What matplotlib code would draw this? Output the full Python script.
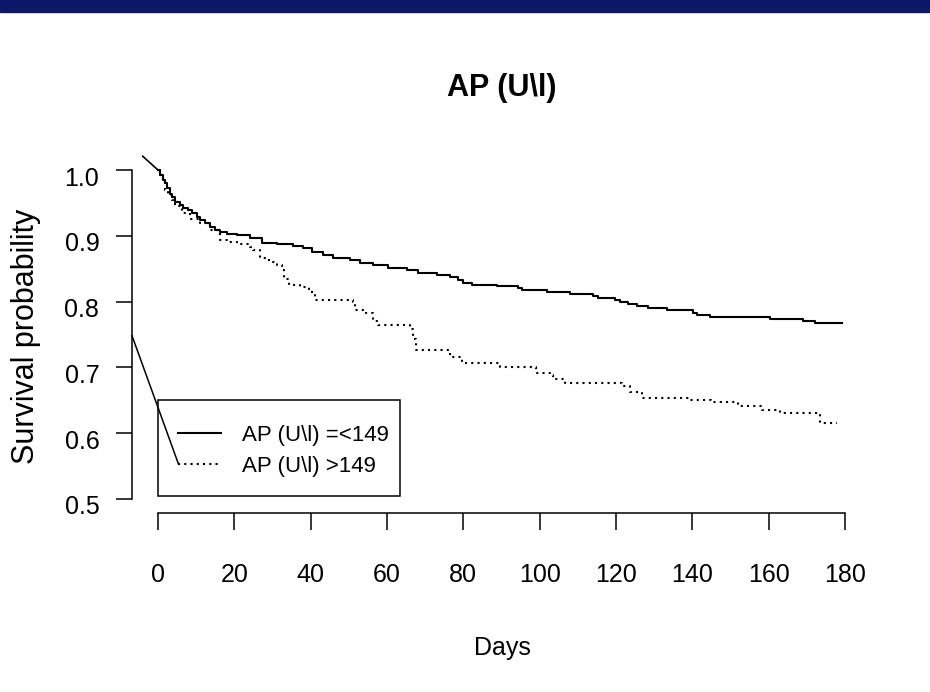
import matplotlib
matplotlib.use("Agg")
import matplotlib.pyplot as plt
import matplotlib.transforms as mtransforms
from matplotlib.patches import Rectangle

plt.rcParams["font.family"] = ["Liberation Sans", "DejaVu Sans"]

# Kaplan-Meier estimates, AP (U\l) =<149
days_low = [0, 0.5, 1.4, 1.8, 2.3, 3.1, 3.6, 4.5, 5.8, 6.6, 7.9, 8.8, 10.1, 11.0,
            12.3, 13.6, 14.9, 16.2, 18.0, 20.6, 24.1, 27.2, 31.1, 35.5, 38.1, 40.3,
            43.3, 45.9, 50.3, 52.9, 56.4, 60.3, 65.2, 68.2, 73.0, 76.5, 78.7, 80.0,
            82.2, 88.7, 94.4, 95.3, 101.8, 107.9, 114.0, 115.4, 119.7, 121.0, 123.2,
            125.4, 128.5, 133.3, 140.2, 141.1, 144.6, 160.3, 169.1, 172.1, 179.1]
surv_low = [1.0, 0.992, 0.985, 0.980, 0.972, 0.964, 0.959, 0.952, 0.947, 0.943,
            0.939, 0.934, 0.929, 0.924, 0.919, 0.914, 0.909, 0.906, 0.903, 0.901,
            0.897, 0.889, 0.887, 0.884, 0.881, 0.875, 0.871, 0.866, 0.863, 0.859,
            0.855, 0.851, 0.848, 0.844, 0.841, 0.837, 0.833, 0.829, 0.826, 0.823,
            0.820, 0.817, 0.814, 0.811, 0.808, 0.805, 0.803, 0.800, 0.797, 0.793,
            0.791, 0.788, 0.782, 0.779, 0.776, 0.773, 0.770, 0.767, 0.767]

# Kaplan-Meier estimates, AP (U\l) >149
days_high = [0, 0.5, 1.4, 1.8, 2.5, 3.6, 4.5, 6.2, 8.4, 11.0, 13.6, 16.2, 18.0, 20.6,
             24.1, 25.0, 26.7, 29.0, 31.1, 32.4, 32.9, 34.2, 37.3, 39.5, 41.2, 51.1,
             51.5, 54.6, 56.4, 57.7, 66.0, 66.9, 67.5, 76.5, 79.6, 89.5, 99.0, 102.7,
             103.6, 106.6, 121.5, 123.7, 126.8, 139.0, 145.0, 152.0, 158.2, 163.0,
             173.4, 177.8]
surv_high = [1.0, 0.992, 0.985, 0.970, 0.962, 0.954, 0.946, 0.934, 0.926, 0.919,
             0.909, 0.893, 0.891, 0.888, 0.883, 0.878, 0.866, 0.860, 0.855, 0.848,
             0.835, 0.825, 0.822, 0.815, 0.802, 0.799, 0.788, 0.782, 0.771, 0.765,
             0.759, 0.743, 0.726, 0.716, 0.707, 0.700, 0.692, 0.689, 0.682, 0.676,
             0.671, 0.662, 0.654, 0.650, 0.647, 0.642, 0.636, 0.630, 0.616, 0.616]

# stray segment leading into the first curve
lead_days = [-4.0, 0.0]
lead_surv = [1.021, 1.0]
# stray segment from the y axis to the legend key
key_anchor = (-6.8, 0.748)

labels = ["AP (U\\l) =<149", "AP (U\\l) >149"]
x_ticks = list(range(0, 181, 20))
y_ticks = [0.5, 0.6, 0.7, 0.8, 0.9, 1.0]

fig = plt.figure(figsize=(9.3, 6.92), dpi=100)
fig.patches.append(Rectangle((0, 1 - 12 / 692), 1, 12 / 692, transform=fig.transFigure,
                             color="#0b1869", zorder=0))

ax = fig.add_axes([132 / 930, (692 - 513) / 692, 740 / 930, 356 / 692])
ax.set_xlim(-6.81, 187.07)
ax.set_ylim(0.4787, 1.0198)

l1, = ax.plot(days_low, surv_low, color="black", lw=1.5, drawstyle="steps-post",
              label=labels[0])
l2, = ax.plot(days_high, surv_high, color="black", lw=1.5, drawstyle="steps-post",
              linestyle=(0, (1, 2)), label=labels[1])
ax.plot(lead_days, lead_surv, color="black", lw=1.2, clip_on=False)

for s in ["top", "right"]:
    ax.spines[s].set_visible(False)
ax.spines["left"].set_bounds(0.5, 1.0)
ax.spines["bottom"].set_bounds(0, 180)
for s in ["left", "bottom"]:
    ax.spines[s].set_linewidth(1.1)

ax.set_xticks(x_ticks)
ax.set_yticks(y_ticks)
ax.set_yticklabels([f"{v:.1f}" for v in y_ticks])
ax.tick_params(axis="x", length=12, width=1.1, pad=24, labelsize=18)
ax.tick_params(axis="y", length=11.5, width=1.1, pad=12, labelsize=18)
shift = mtransforms.ScaledTranslation(0, -6 / 100, fig.dpi_scale_trans)
for lab in ax.get_yticklabels():
    lab.set_transform(lab.get_transform() + shift)

ax.set_xlabel("Days", fontsize=18)
ax.xaxis.label.set_va("center")
ax.xaxis.set_label_coords(0.5, (513 - 648) / 356)
ax.set_ylabel("Survival probability", fontsize=22)
ax.yaxis.label.set_va("center")
ax.yaxis.set_label_coords((26 - 132) / 740, (513 - 336) / 356)

fig.text(502 / 930, 1 - 88 / 692, "AP (U\\l)", fontsize=22, fontweight="bold",
         ha="center", va="center")

# legend box drawn separately so its size can be set directly
ax.add_patch(Rectangle((0.1, 0.504), 63.3, 0.147, facecolor="white",
                       edgecolor="black", lw=1.1, zorder=4))
leg = ax.legend(handles=[l1, l2], loc="upper left", bbox_to_anchor=(-1.3, 0.651),
                bbox_transform=ax.transData, fontsize=16, frameon=False,
                borderpad=1.14, handlelength=1.9, handletextpad=0.95,
                labelspacing=0.43, borderaxespad=0)
leg.set_zorder(5)

# join the stray segment to the left end of the second legend key
fig.canvas.draw()
key = leg.get_lines()[1]
end_disp = key.get_transform().transform(key.get_xydata()[0])
end_data = ax.transData.inverted().transform(end_disp)
ax.plot([key_anchor[0], end_data[0]], [key_anchor[1], end_data[1]],
        color="black", lw=1.1, clip_on=False, zorder=6)

fig.savefig("out.png", dpi=100)
